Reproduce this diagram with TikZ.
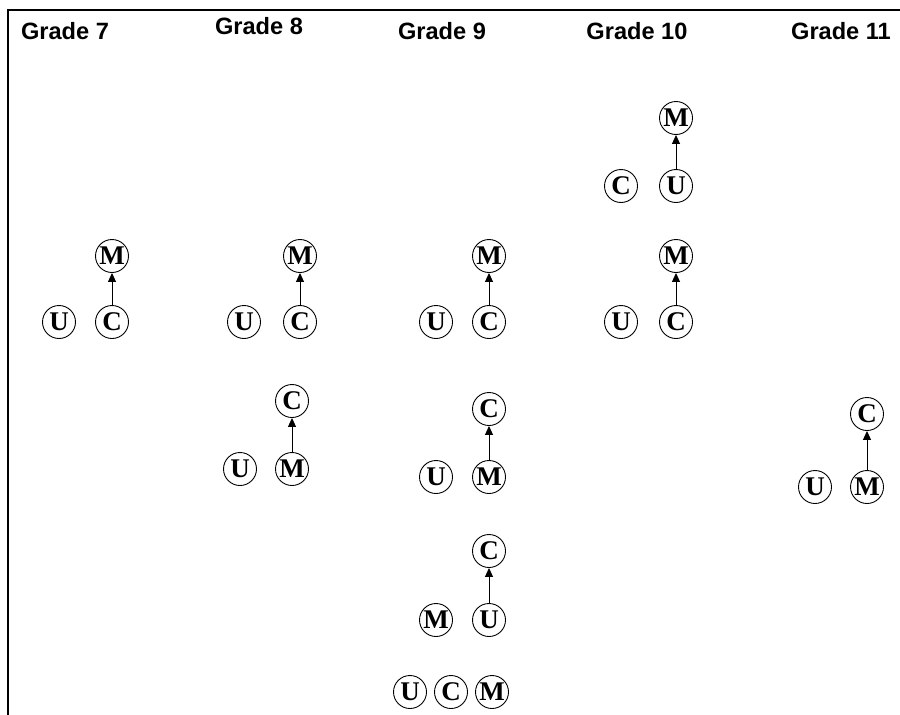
\documentclass[tikz,border=0pt]{standalone}
\usepackage{fontspec}
\setmainfont{Liberation Serif}
\newfontfamily\hdfont{Liberation Sans}
\usetikzlibrary{arrows.meta}
\tikzset{
  vnode/.style={circle,draw,line width=0.9pt,minimum size=33pt,inner sep=0pt,
    font=\fontsize{27}{27}\selectfont\bfseries},
  hdr/.style={font=\hdfont\fontsize{23.6}{23.6}\selectfont\bfseries,inner sep=0pt},
  edge/.style={line width=0.9pt,-{Triangle[length=9pt,width=8pt]}}
}
\begin{document}
\begin{tikzpicture}[x=1pt,y=-1pt]
\useasboundingbox (0,0) rectangle (900,715);
\begin{scope}
\clip (0,0) rectangle (900,715);
\draw[line width=2pt] (8,940) -- (8,10) -- (940,10);
\end{scope}
% headers
\node[hdr] (h7) at (65,31) {Grade 7};
\node[hdr] (h8) at (259,26) {Grade 8};
\node[hdr] (h9) at (442,31) {Grade 9};
\node[hdr] (h10) at (637,31) {Grade 10};
\node[hdr] (h11) at (841,31) {Grade 11};
% Grade 7
\node[vnode] (g7m) at (112,256) {M};
\node[vnode] (g7u) at (59,322) {U};
\node[vnode] (g7c) at (112,322) {C};
\draw[edge] (g7c) -- (g7m);
% Grade 8
\node[vnode] (g8m) at (300,256) {M};
\node[vnode] (g8u) at (244,322) {U};
\node[vnode] (g8c) at (300,322) {C};
\draw[edge] (g8c) -- (g8m);
\node[vnode] (g8c2) at (292,401) {C};
\node[vnode] (g8u2) at (240,469) {U};
\node[vnode] (g8m2) at (292,469) {M};
\draw[edge] (g8m2) -- (g8c2);
% Grade 9
\node[vnode] (g9m) at (489,256) {M};
\node[vnode] (g9u) at (436,322) {U};
\node[vnode] (g9c) at (489,322) {C};
\draw[edge] (g9c) -- (g9m);
\node[vnode] (g9c2) at (489,409) {C};
\node[vnode] (g9u2) at (436,477) {U};
\node[vnode] (g9m2) at (489,477) {M};
\draw[edge] (g9m2) -- (g9c2);
\node[vnode] (g9c3) at (489,551) {C};
\node[vnode] (g9m3) at (436,620) {M};
\node[vnode] (g9u3) at (489,620) {U};
\draw[edge] (g9u3) -- (g9c3);
\node[vnode] (g9u4) at (410,692) {U};
\node[vnode] (g9c4) at (451,692) {C};
\node[vnode] (g9m4) at (492,692) {M};
% Grade 10
\node[vnode] (g10m) at (676,118) {M};
\node[vnode] (g10c) at (621,186) {C};
\node[vnode] (g10u) at (676,186) {U};
\draw[edge] (g10u) -- (g10m);
\node[vnode] (g10m2) at (676,256) {M};
\node[vnode] (g10u2) at (621,322) {U};
\node[vnode] (g10c2) at (676,322) {C};
\draw[edge] (g10c2) -- (g10m2);
% Grade 11
\node[vnode] (g11c) at (867,414) {C};
\node[vnode] (g11u) at (815,487) {U};
\node[vnode] (g11m) at (867,487) {M};
\draw[edge] (g11m) -- (g11c);
\end{tikzpicture}
\end{document}
